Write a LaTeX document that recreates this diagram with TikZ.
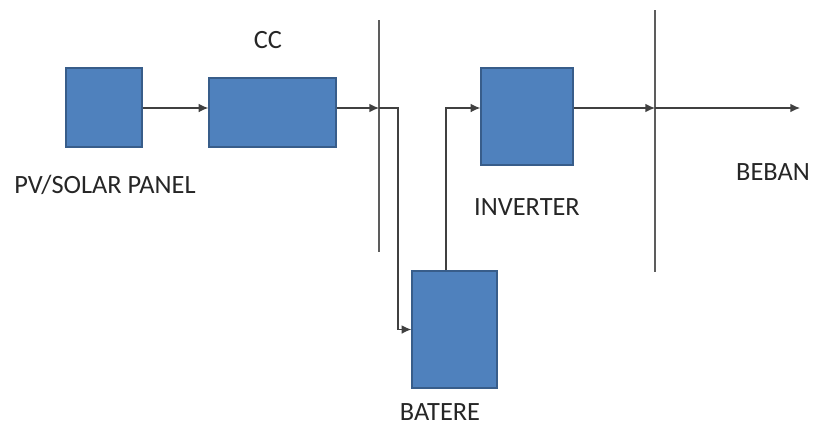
\documentclass[tikz,border=0pt]{standalone}
\usepackage{fontspec}
\setmainfont{Carlito}
\usetikzlibrary{arrows.meta}
\definecolor{BoxBlue}{RGB}{79,129,189}
\definecolor{BoxEdge}{RGB}{56,93,138}
\definecolor{LineGray}{RGB}{64,64,64}

\begin{document}
\begin{tikzpicture}[x=0.02cm, y=-0.02cm,
    blok/.style={draw=BoxEdge, fill=BoxBlue, line width=0.8pt, inner sep=0pt},
    conn/.style={draw=LineGray, line width=0.8pt, -{Latex[length=5.5pt,width=5pt]}},
    bus/.style={draw=LineGray!85, line width=1pt},
    lbl/.style={font=\fontsize{15}{17}\selectfont, text=black!85}]
  \useasboundingbox (0,0) rectangle (822,434);

  % Blocks
  \node[blok, minimum width=1.52cm, minimum height=1.58cm] (pv) at (104,107.5) {};
  \node[blok, minimum width=2.54cm, minimum height=1.38cm] (cc) at (272.5,112.5) {};
  \node[blok, minimum width=1.84cm, minimum height=1.94cm] (inv) at (527,116.5) {};
  \node[blok, minimum width=1.70cm, minimum height=2.34cm] (bat) at (454.5,329.5) {};

  % Labels
  \node[lbl] (pvtext) at (105,185) {PV/SOLAR PANEL};
  \node[lbl] (cctext) at (268,40) {CC};
  \node[lbl] (invtext) at (527,207) {INVERTER};
  \node[lbl] (battext) at (440,412) {BATERE};
  \node[lbl] (bebtext) at (773,172) {BEBAN};

  % Bus bars
  \coordinate (bus1top) at (379,20);
  \coordinate (bus1bot) at (379,252);
  \coordinate (bus2top) at (655,10);
  \coordinate (bus2bot) at (655,272);
  \draw[bus] (bus1top) -- (bus1bot);
  \draw[bus] (bus2top) -- (bus2bot);

  % Junctions
  \coordinate (main) at (0,108);
  \coordinate (j1) at (379,108);
  \coordinate (split) at (398,108);
  \coordinate (rise) at (446,108);
  \coordinate (j2) at (655,108);
  \coordinate (load) at (800,108);

  % Connectors
  \draw[conn] (pv.east |- main) -- (cc.west |- main);
  \draw[conn] (cc.east |- main) -- (j1);
  \draw[conn] (j1) -- (split) |- (bat.west);
  \draw[conn] (bat.north -| rise) -- (rise) -- (inv.west |- main);
  \draw[conn] (inv.east |- main) -- (j2);
  \draw[conn] (j2) -- (load);
\end{tikzpicture}
\end{document}
